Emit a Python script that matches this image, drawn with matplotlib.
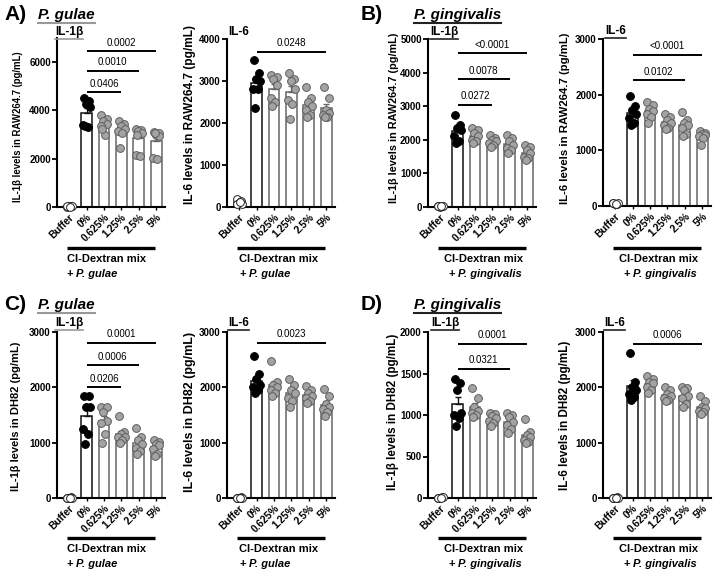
import numpy as np
import matplotlib
matplotlib.use("Agg")
import matplotlib.pyplot as plt
from matplotlib.lines import Line2D

plt.rcParams["font.family"] = ["Liberation Sans", "DejaVu Sans"]
plt.rcParams["font.weight"] = "bold"

FIG_W, FIG_H = 717, 575
GROUPS = ["Buffer", "0%", "0.625%", "1.25%", "2.5%", "5%"]

# ---- data (pg/mL), one list per group: Buffer, 0%, 0.625%, 1.25%, 2.5%, 5% ----
# A) RAW264.7 + P. gulae
A_IL1B = [
    [20, 45, 60, 30, 50, 10],
    [4500, 4400, 4250, 4150, 3400, 3300, 3350],
    [3800, 3650, 3550, 3450, 3350, 3000, 3250],
    [3550, 3450, 3350, 3250, 3150, 3050, 2450],
    [3250, 3200, 3150, 3050, 2150, 2100, 3000],
    [3100, 3050, 3000, 2950, 2050, 2000, 3050],
]
A_IL6 = [
    [200, 150, 100, 80, 60, 120],
    [3500, 3200, 3050, 3000, 2800, 2800, 2350],
    [3150, 3100, 3050, 2900, 2600, 2500, 2400],
    [3200, 3050, 3000, 2800, 2550, 2450, 2100],
    [2850, 2600, 2500, 2400, 2300, 2200, 2150],
    [2850, 2600, 2300, 2250, 2200, 2150, 2150],
]
# B) RAW264.7 + P. gingivalis
B_IL1B = [
    [20, 30, 10, 25, 15, 20],
    [2750, 2450, 2350, 2300, 2100, 1950, 1900],
    [2350, 2300, 2200, 2100, 2000, 1950, 1900],
    [2150, 2050, 2000, 1950, 1900, 1850, 1800],
    [2150, 2050, 1950, 1850, 1750, 1700, 1600],
    [1850, 1800, 1700, 1600, 1500, 1450, 1400],
]
B_IL6 = [
    [60, 40, 30, 50, 45, 35],
    [1980, 1800, 1720, 1650, 1580, 1500, 1450],
    [1870, 1820, 1750, 1700, 1650, 1600, 1500],
    [1650, 1600, 1550, 1500, 1450, 1400, 1380],
    [1680, 1550, 1500, 1450, 1400, 1300, 1250],
    [1350, 1320, 1300, 1280, 1250, 1230, 1100],
]
# C) DH82 + P. gulae
C_IL1B = [
    [5, 10, 0, 8, 3, 6],
    [1850, 1850, 1650, 1650, 1250, 1150, 980],
    [1650, 1650, 1550, 1400, 1350, 1150, 1000],
    [1480, 1200, 1150, 1100, 1100, 1050, 1000],
    [1270, 1100, 1050, 980, 900, 850, 800],
    [1050, 1020, 980, 950, 880, 800, 760],
]
C_IL6 = [
    [5, 10, 0, 8, 3, 6],
    [2560, 2250, 2150, 2050, 2000, 1950, 1900],
    [2470, 2100, 2050, 2000, 1950, 1900, 1850],
    [2150, 2050, 1950, 1900, 1800, 1750, 1650],
    [2020, 1950, 1900, 1850, 1800, 1750, 1720],
    [1970, 1850, 1700, 1650, 1600, 1550, 1480],
]
# D) DH82 + P. gingivalis
D_IL1B = [
    [5, 10, 0, 8, 3, 6],
    [1430, 1380, 1300, 1020, 1000, 960, 870],
    [1320, 1200, 1100, 1050, 1030, 1000, 980],
    [1030, 1010, 990, 960, 930, 900, 870],
    [1020, 1000, 980, 920, 880, 830, 780],
    [950, 800, 760, 730, 700, 680, 660],
]
D_IL6 = [
    [5, 10, 0, 8, 3, 6],
    [2620, 2100, 2000, 1950, 1880, 1820, 1780],
    [2200, 2150, 2100, 2080, 2000, 1950, 1900],
    [2000, 1950, 1880, 1850, 1800, 1780, 1760],
    [2000, 1980, 1950, 1850, 1800, 1700, 1650],
    [1850, 1750, 1650, 1620, 1580, 1550, 1520],
]

# significance brackets: (to group index, bracket height, p-value) -- always vs 0%
A_IL1B_SIG = [(3, 4750, "0.0406"), (4, 5650, "0.0010"), (5, 6450, "0.0002")]
A_IL6_SIG = [(5, 3700, "0.0248")]
B_IL1B_SIG = [(3, 3050, "0.0272"), (4, 3800, "0.0078"), (5, 4580, "<0.0001")]
B_IL6_SIG = [(4, 2260, "0.0102"), (5, 2720, "<0.0001")]
C_IL1B_SIG = [(3, 2000, "0.0206"), (4, 2400, "0.0006"), (5, 2810, "0.0001")]
C_IL6_SIG = [(5, 2810, "0.0023")]
D_IL1B_SIG = [(4, 1560, "0.0321"), (5, 1860, "0.0001")]
D_IL6_SIG = [(5, 2790, "0.0006")]

# horizontal spread of the dots inside each group
JIT = [-0.17, 0.16, -0.05, 0.2, -0.2, 0.06, -0.1, 0.11]

# layout: axis left / top / bottom in pixels
PANELS = [
    dict(data=A_IL1B, sig=A_IL1B_SIG, L=57, T=38, B=207, ymax=7000, step=2000,
         il="IL-1\u03b2", il_xy=(55, 32), il_ul="#999999",
         ylab="IL-1\u03b2 levels in RAW264.7 (pg/mL)", ylab_xy=(18, 127), ylab_fs=6.9,
         line_y=248, bact="P. gulae", mix_x=-0.15, centered=False),
    dict(data=A_IL6, sig=A_IL6_SIG, L=227, T=39, B=207, ymax=4000, step=1000,
         il="IL-6", il_xy=(228, 32), il_ul=None,
         ylab="IL-6 levels in RAW264.7 (pg/mL)", ylab_xy=(190, 114), ylab_fs=8.6,
         line_y=248, bact="P. gulae", mix_x=0.0, centered=False),
    dict(data=B_IL1B, sig=B_IL1B_SIG, L=428, T=39, B=207, ymax=5000, step=1000,
         il="IL-1\u03b2", il_xy=(430, 32), il_ul="#222222",
         ylab="IL-1\u03b2 levels in RAW264.7 (pg/mL)", ylab_xy=(394, 118), ylab_fs=7.8,
         line_y=248, bact="P. gingivalis", mix_x=2.5, centered=True),
    dict(data=B_IL6, sig=B_IL6_SIG, L=603, T=39, B=206, ymax=3000, step=1000,
         il="IL-6", il_xy=(605, 31), il_ul="#222222",
         ylab="IL-6 levels in RAW264.7 (pg/mL)", ylab_xy=(565, 118), ylab_fs=8.2,
         line_y=248, bact="P. gingivalis", mix_x=2.5, centered=True),
    dict(data=C_IL1B, sig=C_IL1B_SIG, L=57, T=332, B=498, ymax=3000, step=1000,
         il="IL-1\u03b2", il_xy=(55, 323), il_ul="#999999",
         ylab="IL-1\u03b2 levels in DH82 (pg/mL)", ylab_xy=(16, 416), ylab_fs=8.0,
         line_y=538, bact="P. gulae", mix_x=-0.15, centered=False),
    dict(data=C_IL6, sig=C_IL6_SIG, L=227, T=332, B=498, ymax=3000, step=1000,
         il="IL-6", il_xy=(228, 323), il_ul="#222222",
         ylab="IL-6 levels in DH82 (pg/mL)", ylab_xy=(190, 412), ylab_fs=9.0,
         line_y=538, bact="P. gulae", mix_x=0.0, centered=False),
    dict(data=D_IL1B, sig=D_IL1B_SIG, L=428, T=332, B=498, ymax=2000, step=500,
         il="IL-1\u03b2", il_xy=(431, 323), il_ul="#222222",
         ylab="IL-1\u03b2 levels in DH82 (pg/mL)", ylab_xy=(393, 412), ylab_fs=8.4,
         line_y=538, bact="P. gingivalis", mix_x=2.5, centered=True),
    dict(data=D_IL6, sig=D_IL6_SIG, L=603, T=332, B=498, ymax=3000, step=1000,
         il="IL-6", il_xy=(604, 323), il_ul="#222222",
         ylab="IL-6 levels in DH82 (pg/mL)", ylab_xy=(565, 415), ylab_fs=8.4,
         line_y=538, bact="P. gingivalis", mix_x=2.5, centered=True),
]

# panel letters + strain titles: (letter, x, y, strain, strain x, underline colour)
HEADERS = [
    ("A)", 4, 15, "P. gulae", 38, "#999999"),
    ("B)", 361, 15, "P. gingivalis", 414, "#222222"),
    ("C)", 4, 305, "P. gulae", 38, "#999999"),
    ("D)", 361, 305, "P. gingivalis", 414, "#222222"),
]

AX_W = 108
XLIM = (-0.7, 5.5)


def fx(x):
    return x / FIG_W


def fy(y):
    return 1 - y / FIG_H


fig = plt.figure(figsize=(FIG_W / 100, FIG_H / 100), dpi=100)
underlines = []

for p in PANELS:
    L, T, B = p["L"], p["T"], p["B"]
    ax = fig.add_axes([fx(L), fy(B), AX_W / FIG_W, (B - T) / FIG_H])
    ax.set_xlim(*XLIM)
    ax.set_ylim(0, p["ymax"])
    ax.set_yticks(np.arange(0, p["ymax"] + 1, p["step"]))
    for s in ("top", "right"):
        ax.spines[s].set_visible(False)
    for s in ("left", "bottom"):
        ax.spines[s].set_linewidth(1.5)
    ax.tick_params(axis="y", width=1.3, length=3.5, labelsize=7, pad=1)
    ax.tick_params(axis="x", width=1.0, length=2.5, labelsize=7.3, pad=1)
    ax.set_xticks(range(len(GROUPS)))
    ax.set_xticklabels(GROUPS, rotation=45, ha="right", rotation_mode="anchor",
                       fontweight="bold")
    for t in ax.get_yticklabels():
        t.set_fontweight("bold")

    for i, vals in enumerate(p["data"]):
        v = np.asarray(vals, dtype=float)
        mean = v.mean()
        sem = v.std(ddof=1) / np.sqrt(len(v))
        if i == 0:
            fc, ec, bedge = "white", "#222222", "#222222"
        elif i == 1:
            fc, ec, bedge = "black", "black", "#111111"
        else:
            fc, ec, bedge = "#a3a3a3", "#5e5e5e", "#666666"
        ax.bar(i, mean, width=0.62, facecolor="white", edgecolor=bedge,
               linewidth=1.1, zorder=1)
        ax.errorbar(i, mean, yerr=[[0], [sem]], fmt="none", ecolor=bedge,
                    elinewidth=1.0, capsize=2.5, capthick=1.0, zorder=2)
        ax.plot(i + np.array(JIT[:len(v)]) * (0.9 if i else 0.7), v, "o",
                ms=5.6, mfc=fc, mec=ec, mew=0.7, zorder=3, clip_on=False)

    for j, y, txt in p["sig"]:
        ax.plot([1, j], [y, y], color="black", lw=1.4, clip_on=False,
                solid_capstyle="butt")
        ax.annotate(txt, xy=((1 + j) / 2, y), xytext=(0, 2.5),
                    textcoords="offset points", ha="center", va="bottom",
                    fontsize=7, fontweight="normal")

    # group bracket under the tick labels
    ly = -(p["line_y"] - B) / (B - T)
    ax.plot([-0.15, 4.95], [ly, ly], color="black", lw=2.4,
            transform=ax.get_xaxis_transform(), clip_on=False,
            solid_capstyle="butt")
    ty1 = -(p["line_y"] + 11 - B) / (B - T)
    ty2 = -(p["line_y"] + 26 - B) / (B - T)
    ha = "center" if p["centered"] else "left"
    ax.text(p["mix_x"], ty1, "Cl-Dextran mix", transform=ax.get_xaxis_transform(),
            ha=ha, va="center", fontsize=8, fontweight="bold")
    if p["centered"]:
        px0 = p["mix_x"] - 2.05
    else:
        px0 = p["mix_x"]
    ax.text(px0, ty2, "+", transform=ax.get_xaxis_transform(),
            ha="left", va="center", fontsize=8, fontweight="bold")
    ax.text(px0 + 0.55, ty2, p["bact"], transform=ax.get_xaxis_transform(),
            ha="left", va="center", fontsize=8, fontweight="bold", style="italic")

    # y label and cytokine name
    fig.text(fx(p["ylab_xy"][0]), fy(p["ylab_xy"][1]), p["ylab"], rotation=90,
             ha="center", va="center", fontsize=p["ylab_fs"], fontweight="bold")
    t = fig.text(fx(p["il_xy"][0]), fy(p["il_xy"][1]), p["il"], ha="left",
                 va="center", fontsize=8.5, fontweight="bold")
    if p["il_ul"]:
        underlines.append((t, p["il_ul"], 1.2))

for letter, x, y, strain, sx, ulc in HEADERS:
    fig.text(fx(x), fy(y), letter, ha="left", va="center", fontsize=15,
             fontweight="bold")
    t = fig.text(fx(sx), fy(y), strain, ha="left", va="center", fontsize=11,
                 fontweight="bold", style="italic")
    underlines.append((t, ulc, 1.5))

fig.canvas.draw()
for t, col, lw in underlines:
    bb = t.get_window_extent()
    yy = (bb.y0 - 1) / FIG_H
    fig.add_artist(Line2D([bb.x0 / FIG_W, bb.x1 / FIG_W], [yy, yy],
                          transform=fig.transFigure, color=col, lw=lw))

fig.savefig("out.png", dpi=100, facecolor="white")
